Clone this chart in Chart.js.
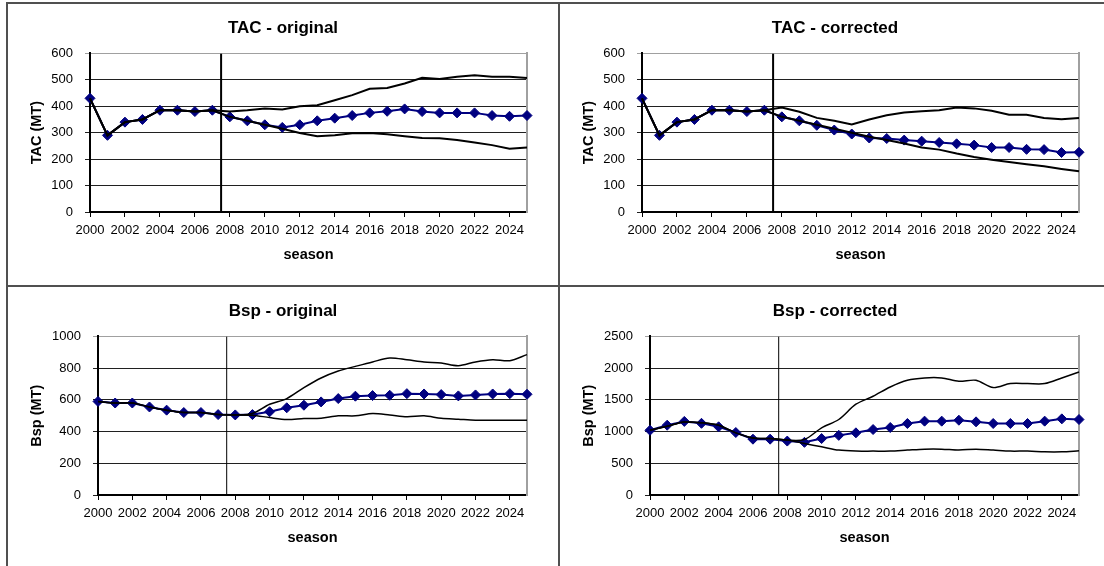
<!DOCTYPE html>
<html>
<head>
<meta charset="utf-8">
<title>TAC and Bsp projections</title>
<script src="https://cdn.jsdelivr.net/npm/chart.js@4/dist/chart.umd.min.js"></script>
<style>
  html, body { margin: 0; padding: 0; background: #fff; }
  body { position: relative; width: 1104px; height: 566px; overflow: hidden; }
  .frame { position: absolute; background: #505050; }
  canvas { position: absolute; }
</style>
</head>
<body>
<div class="frame" style="left:6px;top:2px;width:2px;height:566px;"></div>
<div class="frame" style="left:558px;top:2px;width:2px;height:566px;"></div>
<div class="frame" style="left:6px;top:2px;width:1098px;height:2px;"></div>
<div class="frame" style="left:6px;top:285px;width:1098px;height:2px;"></div>

<canvas id="tac-original" width="550" height="282" style="left:8px;top:3px;"></canvas>
<canvas id="tac-corrected" width="550" height="282" style="left:560px;top:3px;"></canvas>
<canvas id="bsp-original" width="550" height="282" style="left:8px;top:286px;"></canvas>
<canvas id="bsp-corrected" width="550" height="282" style="left:560px;top:286px;"></canvas>

<script>
var seasons = [2000, 2001, 2002, 2003, 2004, 2005, 2006, 2007, 2008, 2009, 2010, 2011, 2012,
  2013, 2014, 2015, 2016, 2017, 2018, 2019, 2020, 2021, 2022, 2023, 2024, 2025];
var projectionStart = 2007.5;

var tacOriginalMedian = [430, 290, 340, 350, 385, 385, 380, 385, 360, 345, 330, 320, 330,
  345, 355, 365, 375, 381, 390, 380, 375, 375, 375, 365, 362, 365];
var tacOriginalUpper = [430, 290, 340, 350, 385, 385, 380, 385, 380, 385, 392, 388, 400,
  404, 423, 442, 466, 469, 486, 508, 503, 512, 517, 512, 512, 507];
var tacOriginalLower = [430, 290, 340, 350, 385, 385, 380, 385, 360, 345, 330, 315, 299,
  287, 290, 298, 299, 294, 287, 280, 279, 272, 263, 253, 239, 244];

var tacCorrectedMedian = [430, 290, 340, 350, 385, 385, 380, 385, 360, 345, 328, 310, 295,
  280, 278, 272, 268, 263, 258, 253, 244, 244, 237, 236, 225, 226];
var tacCorrectedUpper = [430, 290, 340, 350, 385, 385, 380, 385, 395, 379, 356, 345, 331,
  350, 366, 376, 381, 385, 395, 392, 383, 368, 368, 356, 351, 356];
var tacCorrectedLower = [430, 290, 340, 350, 385, 385, 380, 385, 360, 345, 330, 315, 300,
  285, 272, 259, 244, 236, 221, 208, 198, 189, 181, 173, 163, 154];

var bspOriginalMedian = [590, 580, 580, 555, 535, 520, 520, 507, 505, 507, 525, 550, 566,
  587, 608, 623, 627, 629, 639, 637, 633, 625, 631, 637, 639, 635];
var bspOriginalUpper = [590, 580, 580, 555, 535, 520, 520, 507, 505, 514, 572, 608, 677,
  738, 782, 811, 839, 864, 853, 839, 832, 815, 839, 853, 847, 885];
var bspOriginalLower = [590, 580, 580, 555, 535, 520, 520, 507, 505, 503, 488, 476, 482,
  484, 499, 499, 514, 505, 493, 499, 484, 478, 472, 472, 472, 472];

var bspCorrectedMedian = [1020, 1100, 1160, 1130, 1075, 985, 880, 880, 850, 830, 890, 940, 980,
  1032, 1064, 1127, 1164, 1164, 1179, 1153, 1127, 1127, 1127, 1164, 1200, 1190];
var bspCorrectedUpper = [1020, 1085, 1150, 1140, 1100, 980, 900, 890, 865, 875, 1059, 1190, 1431,
  1557, 1703, 1808, 1845, 1845, 1792, 1808, 1693, 1756, 1756, 1756, 1845, 1939];
var bspCorrectedLower = [1020, 1085, 1150, 1140, 1100, 980, 900, 890, 865, 812, 760, 708, 692,
  692, 692, 708, 723, 723, 708, 723, 708, 692, 692, 681, 681, 697];

Chart.defaults.font.family = '"Liberation Sans", Arial, sans-serif';
Chart.defaults.color = "#000";

function toPoints(values) {
  return values.map(function (value, i) {
    return { x: seasons[i], y: value };
  });
}

function buildPanel(canvasId, opts) {
  var lastTick = Math.round(opts.yMax / opts.yStep);

  var datasets = [
    {
      label: "median",
      data: toPoints(opts.median),
      borderColor: "#000080",
      backgroundColor: "#000080",
      borderWidth: 2,
      pointStyle: "rectRot",
      pointRadius: 5,
      pointBorderWidth: 1,
      pointBorderColor: "#000080",
      pointBackgroundColor: "#000080",
      tension: 0,
      clip: false,
      order: 3,
    },
    {
      label: "upper",
      data: toPoints(opts.upper),
      borderColor: "#000",
      borderWidth: opts.boundWidth,
      pointRadius: 0,
      tension: opts.tension,
      clip: false,
      order: 1,
    },
    {
      label: "lower",
      data: toPoints(opts.lower),
      borderColor: "#000",
      borderWidth: opts.boundWidth,
      pointRadius: 0,
      tension: opts.tension,
      clip: false,
      order: 2,
    },
    {
      label: "projection start",
      data: [
        { x: projectionStart, y: 0 },
        { x: projectionStart, y: opts.yMax },
      ],
      borderColor: "#000",
      borderWidth: opts.markerWidth,
      pointRadius: 0,
      order: 0,
    },
  ];

  return new Chart(document.getElementById(canvasId), {
    type: "line",
    data: { datasets: datasets },
    options: {
      responsive: false,
      animation: false,
      events: [],
      layout: { padding: 0 },
      plugins: {
        legend: { display: false },
        tooltip: { enabled: false },
        title: {
          display: true,
          text: opts.title,
          color: "#000",
          font: { size: 17, weight: "bold" },
          padding: { top: 15, bottom: 15 },
        },
      },
      scales: {
        x: {
          type: "linear",
          min: 2000,
          max: 2025,
          afterFit: function (scale) {
            scale.height = 73;
          },
          border: { color: "#000", width: 2 },
          grid: {
            drawOnChartArea: false,
            drawTicks: true,
            tickLength: 5,
            color: "#000",
          },
          ticks: {
            stepSize: 2,
            includeBounds: false,
            autoSkip: false,
            maxRotation: 0,
            padding: 6,
            font: { size: 13 },
            callback: function (value) {
              return String(value);
            },
          },
          title: {
            display: true,
            text: "season",
            font: { size: 14.5, weight: "bold" },
            padding: { top: 0, bottom: 21 },
          },
        },
        y: {
          min: 0,
          max: opts.yMax,
          afterFit: function (scale) {
            scale.width = opts.plotLeft;
          },
          border: { color: "#000", width: opts.axisWidth },
          grid: {
            tickLength: 5,
            lineWidth: 1,
            color: function (ctx) {
              return ctx.index === lastTick ? "#a0a0a0" : "#202020";
            },
          },
          ticks: {
            stepSize: opts.yStep,
            padding: 12,
            font: { size: 13 },
            callback: function (value) {
              return String(value);
            },
          },
          title: {
            display: true,
            text: opts.yTitle,
            font: { size: 14.5, weight: "bold" },
            padding: { top: 20, bottom: 0 },
          },
        },
        frame: {
          position: "right",
          display: true,
          afterFit: function (scale) {
            scale.width = 31;
          },
          border: { color: "#a0a0a0", width: 2 },
          grid: { drawOnChartArea: false, drawTicks: false },
          ticks: { display: false },
        },
      },
    },
  });
}

buildPanel("tac-original", {
  title: "TAC - original",
  yTitle: "TAC (MT)",
  median: tacOriginalMedian,
  upper: tacOriginalUpper,
  lower: tacOriginalLower,
  yMax: 600,
  yStep: 100,
  plotLeft: 82,
  axisWidth: 2,
  markerWidth: 2,
  boundWidth: 2,
  tension: 0,
});

buildPanel("tac-corrected", {
  title: "TAC - corrected",
  yTitle: "TAC (MT)",
  median: tacCorrectedMedian,
  upper: tacCorrectedUpper,
  lower: tacCorrectedLower,
  yMax: 600,
  yStep: 100,
  plotLeft: 82,
  axisWidth: 2,
  markerWidth: 2,
  boundWidth: 2,
  tension: 0,
});

buildPanel("bsp-original", {
  title: "Bsp - original",
  yTitle: "Bsp (MT)",
  median: bspOriginalMedian,
  upper: bspOriginalUpper,
  lower: bspOriginalLower,
  yMax: 1000,
  yStep: 200,
  plotLeft: 90,
  axisWidth: 2,
  markerWidth: 1,
  boundWidth: 1.5,
  tension: 0.3,
});

buildPanel("bsp-corrected", {
  title: "Bsp - corrected",
  yTitle: "Bsp (MT)",
  median: bspCorrectedMedian,
  upper: bspCorrectedUpper,
  lower: bspCorrectedLower,
  yMax: 2500,
  yStep: 500,
  plotLeft: 90,
  axisWidth: 2,
  markerWidth: 1,
  boundWidth: 1.5,
  tension: 0.3,
});
</script>
</body>
</html>
